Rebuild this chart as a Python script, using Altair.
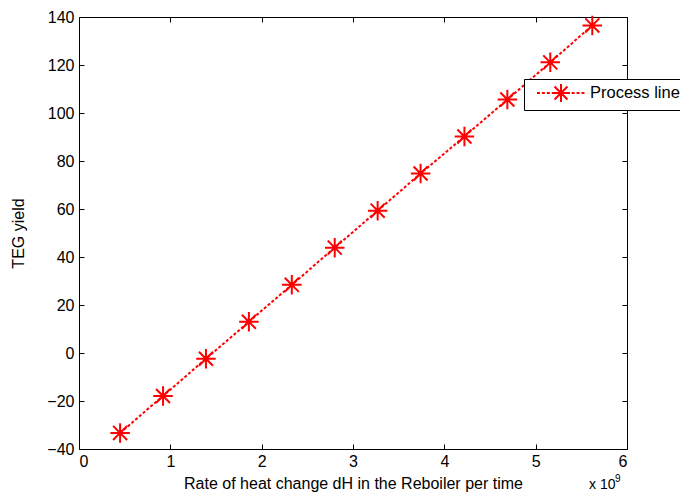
import altair as alt
import pandas as pd

x_vals = [0.45, 0.92, 1.39, 1.86, 2.33, 2.80, 3.27, 3.74, 4.22, 4.69, 5.16, 5.62]
y_vals = [-33.3, -17.9, -2.4, 13.0, 28.4, 43.9, 59.3, 74.8, 90.2, 105.6, 121.1, 136.5]
series_name = "Process line"
x_ticks = [0, 1, 2, 3, 4, 5, 6]
y_ticks = [-40, -20, 0, 20, 40, 60, 80, 100, 120, 140]

df = pd.DataFrame({"x": x_vals, "y": y_vals, "series": [series_name] * len(x_vals)})

RED = "#ff0000"
FONT = "Liberation Sans"
FS = 16

star = "M-1,0L1,0M0,-1L0,1M-0.72,-0.72L0.72,0.72M-0.72,0.72L0.72,-0.72"

# legend glyph: dashed line with star in the middle (units of 9px)
segs = []
p = -2.67
while p < 2.67:
    segs.append(f"M{p:.2f},0L{min(p + 0.33, 2.67):.2f},0")
    p += 0.55
legend_path = "".join(segs) + star

xs = alt.Scale(domain=[0, 6], nice=False, zero=False)
ys = alt.Scale(domain=[-40, 140], nice=False, zero=False)

line = alt.Chart(df).mark_line(color=RED, strokeDash=[3, 2], strokeWidth=2).encode(
    x=alt.X("x:Q", scale=xs, axis=alt.Axis(values=x_ticks, tickSize=5, offset=-5, domain=False,
                                           grid=False, labelPadding=4, tickColor="black",
                                           title="Rate of heat change dH in the Reboiler per time",
                                           titlePadding=6)),
    y=alt.Y("y:Q", scale=ys, axis=alt.Axis(values=y_ticks, tickSize=5, offset=-5, domain=False,
                                           grid=False, labelPadding=5, tickColor="black",
                                           title="TEG yield", titlePadding=20)),
)

points = alt.Chart(df).mark_point(shape=star, filled=False, strokeWidth=2, size=380, opacity=1).encode(
    x=alt.X("x:Q", scale=xs, axis=None),
    y=alt.Y("y:Q", scale=ys, axis=None),
    color=alt.Color("series:N", scale=alt.Scale(domain=[series_name], range=[RED]),
                    legend=alt.Legend(title=None, orient="none", legendX=445, legendY=62,
                                      symbolType=legend_path, symbolSize=324,
                                      symbolStrokeWidth=2, symbolOffset=23, labelOffset=19,
                                      padding=4, strokeColor="black", fillColor="white",
                                      labelFontSize=16.5, labelFont=FONT, labelColor="black")),
)

ghost = alt.Chart(df).mark_point(opacity=0).encode(
    x=alt.X("x:Q", scale=xs, axis=alt.Axis(orient="top", values=x_ticks, tickSize=5, offset=-5,
                                           domain=False, grid=False, labels=False, title=None,
                                           tickColor="black")),
    y=alt.Y("y:Q", scale=ys, axis=alt.Axis(orient="right", values=y_ticks, tickSize=5, offset=-5,
                                           domain=False, grid=False, labels=False, title=None,
                                           tickColor="black")),
)

exp_text = alt.Chart(pd.DataFrame({"t": ["x 10"]})).mark_text(
    align="left", baseline="alphabetic", fontSize=14, font=FONT, color="black"
).encode(text="t:N", x=alt.value(510), y=alt.value(472))

exp_sup = alt.Chart(pd.DataFrame({"t": ["9"]})).mark_text(
    align="left", baseline="alphabetic", fontSize=10, font=FONT, color="black"
).encode(text="t:N", x=alt.value(536), y=alt.value(465))

chart = alt.layer(line, points, ghost, exp_text, exp_sup).resolve_axis(
    x="independent", y="independent"
).properties(
    width=548, height=432,
    padding={"left": 71, "top": 9, "right": 53, "bottom": 43},
    autosize=alt.AutoSizeParams(type="none"),
    background="white",
).configure_view(
    stroke="black", strokeWidth=1
).configure_axis(
    labelFont=FONT, labelFontSize=FS, labelColor="black",
    titleFont=FONT, titleFontSize=FS, titleFontWeight="normal", titleColor="black",
)

chart.save("out.html", embed_options={"renderer": "svg", "actions": False})
